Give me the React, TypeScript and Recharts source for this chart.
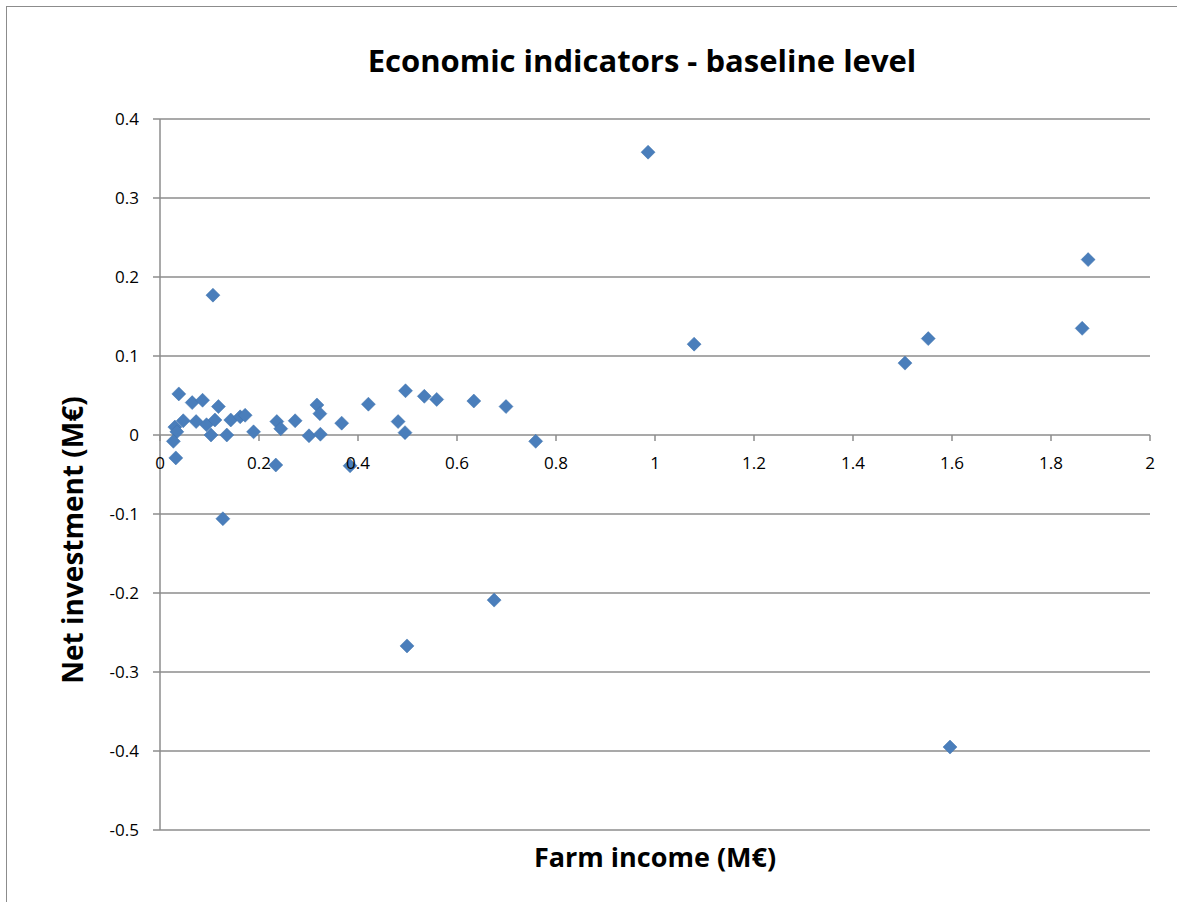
import React from 'react';
import { ScatterChart, Scatter, XAxis, YAxis, CartesianGrid } from 'recharts';

// Farm income (M€) vs net investment (M€)
const farmIncome = [
  0.038, 0.065, 0.086, 0.118, 0.047, 0.030, 0.034, 0.027, 0.032, 0.073,
  0.094, 0.111, 0.103, 0.135, 0.143, 0.162, 0.172, 0.189, 0.236, 0.244,
  0.273, 0.301, 0.317, 0.323, 0.324, 0.367, 0.234, 0.384, 0.421, 0.481,
  0.495, 0.496, 0.534, 0.559, 0.634, 0.699, 0.759, 0.107, 0.127, 0.499,
  0.675, 0.986, 1.079, 1.505, 1.552, 1.596, 1.863, 1.875,
];
const netInvestment = [
  0.052, 0.041, 0.044, 0.036, 0.018, 0.010, 0.004, -0.008, -0.029, 0.017,
  0.013, 0.019, 0.000, 0.000, 0.019, 0.023, 0.025, 0.004, 0.017, 0.008,
  0.018, -0.001, 0.038, 0.027, 0.001, 0.015, -0.038, -0.039, 0.039, 0.017,
  0.003, 0.056, 0.049, 0.045, 0.043, 0.036, -0.008, 0.177, -0.106, -0.267,
  -0.209, 0.358, 0.115, 0.091, 0.122, -0.395, 0.135, 0.222,
];
const xTicks = [0, 0.2, 0.4, 0.6, 0.8, 1, 1.2, 1.4, 1.6, 1.8, 2];
const yTicks = [-0.5, -0.4, -0.3, -0.2, -0.1, 0, 0.1, 0.2, 0.3, 0.4];

const data = farmIncome.map((x, i) => ({ x, y: netInvestment[i] }));

const FONT = '"Open Sans", Lato, sans-serif';
const GRID = '#8c8c8c';
const MARKER = '#4a7ebb';

const W = 1170;
const H = 890;
const TOP = 119;
const LEFT = 160;
const RIGHT = 20;
const X_AXIS_H = 60;
const plotH = H - TOP - X_AXIS_H;
const Y_MIN = -0.5;
const Y_MAX = 0.4;
// pixel row of y = 0, where Excel puts the horizontal axis
const zeroY = TOP + (Y_MAX / (Y_MAX - Y_MIN)) * plotH;

const fmt = (v: number) => String(Number(v.toFixed(1)));

const XTick = (props: any) => {
  const { x, payload } = props;
  return (
    <g>
      <line x1={x} x2={x} y1={zeroY} y2={zeroY + 6} stroke={GRID} strokeWidth={1.5} />
      <text x={x} y={zeroY + 34} textAnchor="middle" fontSize={17} fontFamily={FONT} fill="#000">
        {fmt(payload.value)}
      </text>
    </g>
  );
};

const Diamond = (props: any) => {
  const { cx, cy } = props;
  const r = 7;
  return (
    <polygon
      points={`${cx},${cy - r} ${cx + r},${cy} ${cx},${cy + r} ${cx - r},${cy}`}
      fill={MARKER}
      stroke="#3f72ad"
      strokeWidth={0.5}
    />
  );
};

export default function App() {
  return (
    <div style={{ position: 'absolute', left: 0, top: 0, width: 1177, height: 902, overflow: 'hidden', background: '#fff' }}>
      <div style={{ position: 'absolute', left: 6, top: 6, width: 1220, height: 960, border: '1.5px solid #8c8c8c' }} />
      <div style={{ position: 'absolute', left: 0, top: 0 }}>
        <ScatterChart width={W} height={H} margin={{ top: TOP, right: RIGHT, left: 0, bottom: 0 }}>
          <CartesianGrid vertical={false} stroke={GRID} strokeWidth={1.5} />
          <XAxis
            type="number"
            dataKey="x"
            domain={[0, 2]}
            ticks={xTicks}
            height={X_AXIS_H}
            axisLine={false}
            tickLine={false}
            tick={<XTick />}
            interval={0}
          />
          <YAxis
            type="number"
            dataKey="y"
            domain={[Y_MIN, Y_MAX]}
            ticks={yTicks}
            width={LEFT}
            interval={0}
            axisLine={{ stroke: GRID, strokeWidth: 1.5 }}
            tickLine={{ stroke: GRID, strokeWidth: 1.5 }}
            tickSize={7}
            tickMargin={14}
            tickFormatter={fmt}
            tick={{ fill: '#000', fontSize: 17, fontFamily: FONT }}
          />
          <Scatter data={data} shape={<Diamond />} isAnimationActive={false} />
        </ScatterChart>
      </div>
      <div
        style={{
          position: 'absolute', left: 147, width: 990, top: 37, textAlign: 'center',
          fontFamily: FONT, fontWeight: 700, fontSize: 31, color: '#000', lineHeight: '46px',
        }}
      >
        Economic indicators - baseline level
      </div>
      <div
        style={{
          position: 'absolute', left: LEFT, width: W - LEFT - RIGHT, top: 839, textAlign: 'center',
          fontFamily: FONT, fontWeight: 700, fontSize: 27, color: '#000', lineHeight: '36px',
        }}
      >
        Farm income (M€)
      </div>
      <div
        style={{
          position: 'absolute', left: 72, top: 540, transform: 'translate(-50%, -50%) rotate(-90deg)',
          fontFamily: FONT, fontWeight: 700, fontSize: 28, color: '#000', whiteSpace: 'nowrap', lineHeight: '36px',
        }}
      >
        Net investment (M€)
      </div>
    </div>
  );
}
